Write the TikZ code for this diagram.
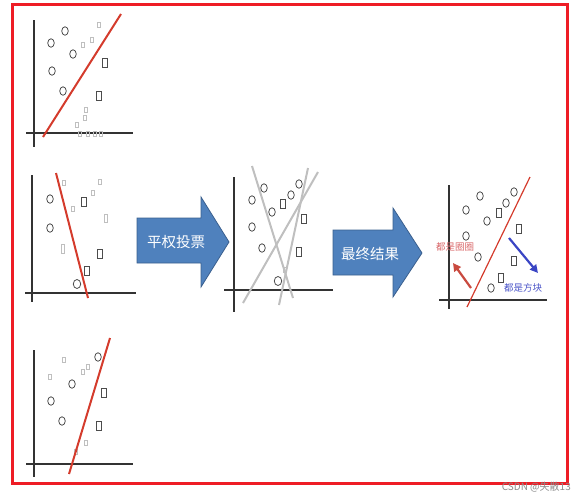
\documentclass[tikz,border=0pt]{standalone}
\usepackage{fontspec}
\newfontfamily\cjk{Noto Sans CJK SC}
\usetikzlibrary{shapes.geometric,arrows.meta}
\definecolor{framered}{HTML}{EE1C25}
\definecolor{sepred}{HTML}{D43B2C}
\definecolor{blockfill}{HTML}{4F81BD}
\definecolor{blockedge}{HTML}{3A5F8E}
\definecolor{labred}{HTML}{D9686A}
\definecolor{arrred}{HTML}{C94A3F}
\definecolor{labblue}{HTML}{4A54C8}
\definecolor{arrblue}{HTML}{3A45C4}
\tikzset{
  circ/.style={draw=black!70, ellipse, minimum width=6.5pt, minimum height=8.5pt, inner sep=0pt, line width=0.8pt},
  sq/.style={draw=black!70, rectangle, minimum width=5pt, minimum height=8.5pt, inner sep=0pt, line width=0.8pt},
  faint/.style={draw=black!25, rectangle, minimum width=3pt, minimum height=5pt, inner sep=0pt, line width=0.8pt},
  axisline/.style={draw=black!80, line width=1.2pt},
  sepline/.style={draw=sepred, line width=2pt},
  voteline/.style={draw=black!25, line width=2pt},
  blockarrow/.style={fill=blockfill, draw=blockedge, line width=0.8pt},
  blocktext/.style={text=white, font=\cjk\fontsize{14.5}{14.5}\selectfont, inner sep=0pt},
  hintarrow/.style={line width=2.2pt, -{Triangle[length=8pt,width=8pt]}},
}
\begin{document}
\begin{tikzpicture}[x=1pt,y=-1pt]
\useasboundingbox (0,0) rectangle (575,496);
% frame
\draw[draw=framered, line width=3pt] (12,4) rectangle (567,483);

% ---------- panel 1 ----------
\coordinate (p1yt) at (34,20); \coordinate (p1yb) at (34,147);
\coordinate (p1xl) at (26,133); \coordinate (p1xr) at (133,133);
\draw[axisline] (p1yt) -- (p1yb);
\draw[axisline] (p1xl) -- (p1xr);
\node[circ] (p1c1) at (51,43) {};
\node[circ] (p1c2) at (65,31) {};
\node[circ] (p1c3) at (73,54) {};
\node[circ] (p1c4) at (52,71) {};
\node[circ] (p1c5) at (63,91) {};
\node[sq] (p1s1) at (105,63) {};
\node[sq] (p1s2) at (99,96) {};
\node[faint] (p1f1) at (83,45) {};
\node[faint] (p1f2) at (92,40) {};
\node[faint] (p1f3) at (99,25) {};
\node[faint] (p1f4) at (86,110) {};
\node[faint] (p1f5) at (85,118) {};
\node[faint] (p1f6) at (77,125) {};
\node[faint] (p1f7) at (80,134) {};
\node[faint] (p1f8) at (88,134) {};
\node[faint] (p1f9) at (95,134) {};
\node[faint] (p1f10) at (101,134) {};
\coordinate (p1la) at (43,137); \coordinate (p1lb) at (121,14);
\draw[sepline] (p1la) -- (p1lb);

% ---------- panel 2 ----------
\coordinate (p2yt) at (32,175); \coordinate (p2yb) at (32,302);
\coordinate (p2xl) at (25,293); \coordinate (p2xr) at (136,293);
\draw[axisline] (p2yt) -- (p2yb);
\draw[axisline] (p2xl) -- (p2xr);
\node[circ] (p2c1) at (50,199) {};
\node[circ] (p2c2) at (50,228) {};
\node[circ, minimum width=7.5pt, minimum height=9pt] (p2c3) at (77,284) {};
\node[sq] (p2s1) at (84,202) {};
\node[sq] (p2s2) at (100,254) {};
\node[sq] (p2s3) at (87,271) {};
\node[faint, minimum height=9pt] (p2f1) at (63,249) {};
\node[faint, minimum height=8pt] (p2f2) at (106,218) {};
\node[faint] (p2f3) at (100,182) {};
\node[faint] (p2f4) at (64,183) {};
\node[faint] (p2f5) at (73,209) {};
\node[faint] (p2f6) at (93,193) {};
\coordinate (p2la) at (56,173); \coordinate (p2lb) at (88,298);
\draw[sepline] (p2la) -- (p2lb);

% ---------- panel 3 ----------
\coordinate (p3yt) at (34,350); \coordinate (p3yb) at (34,477);
\coordinate (p3xl) at (26,464); \coordinate (p3xr) at (133,464);
\draw[axisline] (p3yt) -- (p3yb);
\draw[axisline] (p3xl) -- (p3xr);
\node[circ] (p3c1) at (98,357) {};
\node[circ] (p3c2) at (72,384) {};
\node[circ] (p3c3) at (51,401) {};
\node[circ] (p3c4) at (62,421) {};
\node[sq] (p3s1) at (104,393) {};
\node[sq] (p3s2) at (99,426) {};
\node[faint] (p3f1) at (64,360) {};
\node[faint] (p3f2) at (50,377) {};
\node[faint] (p3f3) at (83,372) {};
\node[faint] (p3f4) at (88,367) {};
\node[faint] (p3f5) at (86,443) {};
\node[faint] (p3f6) at (76,452) {};
\coordinate (p3la) at (69,474); \coordinate (p3lb) at (110,338);
\draw[sepline] (p3la) -- (p3lb);

% ---------- block arrow 1 ----------
\draw[blockarrow] (137,218) -- (201,218) -- (201,197) -- (229,242) -- (201,287) -- (201,263) -- (137,263) -- cycle;
\node[blocktext] (vote) at (176,242) {平权投票};

% ---------- panel 4 ----------
\coordinate (p4yt) at (234,177); \coordinate (p4yb) at (234,312);
\coordinate (p4xl) at (224,290); \coordinate (p4xr) at (333,290);
\draw[axisline] (p4yt) -- (p4yb);
\draw[axisline] (p4xl) -- (p4xr);
\coordinate (p4l1a) at (252,166); \coordinate (p4l1b) at (293,298);
\coordinate (p4l2a) at (308,168); \coordinate (p4l2b) at (279,305);
\coordinate (p4l3a) at (318,172); \coordinate (p4l3b) at (243,303);
\draw[voteline] (p4l1a) -- (p4l1b);
\draw[voteline] (p4l2a) -- (p4l2b);
\draw[voteline] (p4l3a) -- (p4l3b);
\node[circ] (p4c1) at (252,200) {};
\node[circ] (p4c2) at (264,188) {};
\node[circ] (p4c3) at (272,212) {};
\node[circ] (p4c4) at (291,195) {};
\node[circ] (p4c5) at (299,184) {};
\node[circ] (p4c6) at (252,227) {};
\node[circ] (p4c7) at (262,248) {};
\node[circ, minimum width=7.5pt, minimum height=9pt] (p4c8) at (278,281) {};
\node[sq] (p4s1) at (283,204) {};
\node[sq] (p4s2) at (304,219) {};
\node[sq] (p4s3) at (299,252) {};
\node[faint] (p4f1) at (285,270) {};

% ---------- block arrow 2 ----------
\draw[blockarrow] (333,230) -- (393,230) -- (393,208) -- (422,253) -- (393,297) -- (393,275) -- (333,275) -- cycle;
\node[blocktext] (result) at (370,254) {最终结果};

% ---------- panel 5 ----------
\coordinate (p5yt) at (449,185); \coordinate (p5yb) at (449,309);
\coordinate (p5xl) at (439,300); \coordinate (p5xr) at (547,300);
\draw[axisline] (p5yt) -- (p5yb);
\draw[axisline] (p5xl) -- (p5xr);
\node[circ] (p5c1) at (466,210) {};
\node[circ] (p5c2) at (480,196) {};
\node[circ] (p5c3) at (487,221) {};
\node[circ] (p5c4) at (506,203) {};
\node[circ] (p5c5) at (514,192) {};
\node[circ] (p5c6) at (466,236) {};
\node[circ] (p5c7) at (478,257) {};
\node[circ] (p5c8) at (491,288) {};
\node[sq] (p5s1) at (499,213) {};
\node[sq] (p5s2) at (519,229) {};
\node[sq] (p5s3) at (514,261) {};
\node[sq] (p5s4) at (501,278) {};
\coordinate (p5la) at (467,307); \coordinate (p5lb) at (530,177);
\draw[draw=sepred, line width=1.2pt] (p5la) -- (p5lb);
\coordinate (rfrom) at (471,288); \coordinate (rto) at (453,263);
\draw[hintarrow, draw=arrred, fill=arrred] (rfrom) -- (rto);
\node[text=labred, font=\cjk\fontsize{9.5}{9.5}\selectfont, inner sep=0pt] (circlab) at (455,247) {都是圈圈};
\coordinate (bfrom) at (509,238); \coordinate (bto) at (538,273);
\draw[hintarrow, draw=arrblue, fill=arrblue] (bfrom) -- (bto);
\node[text=labblue, font=\cjk\fontsize{9.5}{9.5}\selectfont, inner sep=0pt] (sqlab) at (523,288) {都是方块};

% watermark
\node[anchor=east, text=black!45, font=\cjk\fontsize{10}{10}\selectfont, inner sep=0pt] (wm) at (571,487) {CSDN @失散13};
\end{tikzpicture}
\end{document}
